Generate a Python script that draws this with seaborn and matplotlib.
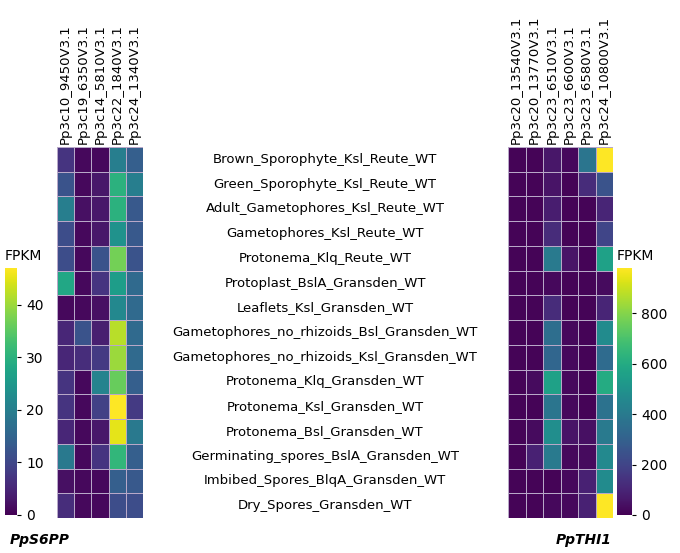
import numpy as np
import pandas as pd
import matplotlib
matplotlib.use("Agg")
import matplotlib.pyplot as plt
import seaborn as sns

samples = ["Brown_Sporophyte_Ksl_Reute_WT", "Green_Sporophyte_Ksl_Reute_WT",
           "Adult_Gametophores_Ksl_Reute_WT", "Gametophores_Ksl_Reute_WT",
           "Protonema_Klq_Reute_WT", "Protoplast_BslA_Gransden_WT",
           "Leaflets_Ksl_Gransden_WT", "Gametophores_no_rhizoids_Bsl_Gransden_WT",
           "Gametophores_no_rhizoids_Ksl_Gransden_WT", "Protonema_Klq_Gransden_WT",
           "Protonema_Ksl_Gransden_WT", "Protonema_Bsl_Gransden_WT",
           "Germinating_spores_BslA_Gransden_WT", "Imbibed_Spores_BlqA_Gransden_WT",
           "Dry_Spores_Gransden_WT"]

s6pp_genes = ["Pp3c10_9450V3.1", "Pp3c19_6350V3.1", "Pp3c14_5810V3.1",
              "Pp3c22_1840V3.1", "Pp3c24_1340V3.1"]
s6pp_fpkm = [
    [7, 1, 1, 20, 14],
    [12, 1, 3, 30, 20],
    [20, 2, 3, 30, 13],
    [11, 1, 3, 24, 13],
    [11, 1, 12, 37, 12],
    [28, 1, 7, 26, 16],
    [1, 1, 2, 22, 16],
    [5, 12, 4, 42, 16],
    [5, 6, 8, 40, 16],
    [7, 1, 21, 36, 14],
    [7, 1, 9, 47, 8],
    [5, 1, 3, 45, 19],
    [19, 1, 7, 31, 14],
    [2, 1, 1, 14, 13],
    [6, 1, 1, 11, 11],
]

thi1_genes = ["Pp3c20_13540V3.1", "Pp3c20_13770V3.1", "Pp3c23_6510V3.1",
              "Pp3c23_6600V3.1", "Pp3c23_6580V3.1", "Pp3c24_10800V3.1"]
thi1_fpkm = [
    [10, 10, 60, 20, 380, 980],
    [10, 10, 50, 10, 120, 250],
    [10, 10, 80, 10, 10, 100],
    [10, 10, 120, 10, 10, 200],
    [10, 10, 400, 50, 10, 560],
    [10, 10, 20, 10, 10, 30],
    [10, 10, 120, 10, 10, 100],
    [10, 10, 350, 20, 10, 470],
    [10, 10, 320, 20, 10, 340],
    [10, 30, 560, 20, 10, 600],
    [10, 10, 380, 20, 10, 370],
    [10, 30, 480, 50, 40, 400],
    [10, 90, 400, 20, 30, 460],
    [10, 10, 10, 20, 90, 470],
    [10, 10, 20, 20, 90, 980],
]

df_left = pd.DataFrame(s6pp_fpkm, index=samples, columns=s6pp_genes)
df_right = pd.DataFrame(thi1_fpkm, index=samples, columns=thi1_genes)

plt.rcParams['font.family'] = ['DejaVu Sans']
fig = plt.figure(figsize=(6.8, 5.53), dpi=100)
H, W = 553, 680
def ax_px(x0, y0, x1, y1):
    return fig.add_axes([x0 / W, 1 - y1 / H, (x1 - x0) / W, (y1 - y0) / H])

axl = ax_px(57, 147, 143, 518)
axr = ax_px(508, 147, 613, 518)
cbl = ax_px(5, 268, 17, 515)
cbr = ax_px(617, 268, 632, 515)

sns.heatmap(df_left, ax=axl, cmap="viridis", vmin=0, vmax=47, cbar_ax=cbl,
            linewidths=0.4, linecolor="#b8a8c8", yticklabels=False)
sns.heatmap(df_right, ax=axr, cmap="viridis", vmin=0, vmax=980, cbar_ax=cbr,
            linewidths=0.4, linecolor="#b8a8c8", yticklabels=False)

for ax in (axl, axr):
    ax.xaxis.tick_top()
    ax.set_xticklabels(ax.get_xticklabels(), rotation=90, fontsize=9.5)
    ax.tick_params(axis="x", length=0, pad=2)
    ax.set_ylabel("")
    ax.set_xlabel("")

for i, s in enumerate(samples):
    fig.text(325 / W, 1 - (147 + (i + 0.5) * (371 / 15)) / H, s,
             ha="center", va="center", fontsize=9.5)

for cb, ticks in ((cbl, [0, 10, 20, 30, 40]), (cbr, [0, 200, 400, 600, 800])):
    cb.set_yticks(ticks)
    cb.tick_params(labelsize=10, length=3)
    cb.set_title("FPKM", fontsize=10, loc="left", pad=6)

fig.text(10 / W, 1 - 540 / H, "PpS6PP", fontsize=10, fontweight="bold",
         fontstyle="italic", va="center")
fig.text(612 / W, 1 - 540 / H, "PpTHI1", fontsize=10, fontweight="bold",
         fontstyle="italic", va="center", ha="right")

fig.savefig("out.png", dpi=100)
